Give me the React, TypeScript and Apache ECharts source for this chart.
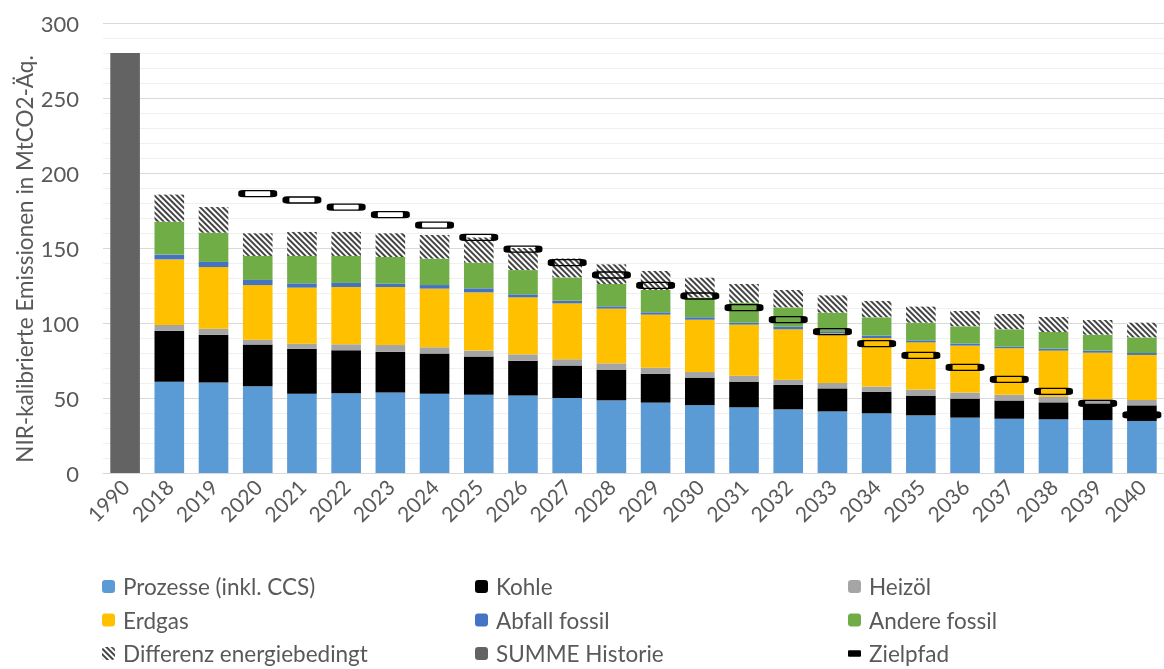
import React, { useEffect, useRef } from "react";
import * as echarts from "echarts";

const categories = ["1990","2018","2019","2020","2021","2022","2023","2024","2025","2026","2027","2028","2029","2030","2031","2032","2033","2034","2035","2036","2037","2038","2039","2040"];

const summeHistorie = [280];
const prozesse = [60.9,60.4,57.8,52.9,53.1,53.6,52.9,52.2,51.6,50.0,48.4,46.9,45.3,43.8,42.4,41.1,39.8,38.4,36.9,36.2,35.8,35.3,34.7];
const kohle = [34.0,31.8,27.8,30.0,28.7,27.3,26.7,25.4,23.3,21.6,20.5,19.3,18.3,17.1,16.3,15.3,14.4,13.2,12.7,12.2,11.3,11.1,10.4];
const heizoel = [3.8,4.0,3.3,3.3,4.0,4.4,4.2,4.0,4.2,4.2,4.2,4.0,3.7,4.0,3.5,3.6,3.4,4.0,4.0,3.8,3.8,2.7,3.6];
const erdgas = [43.7,41.1,36.4,37.4,38.2,38.7,39.1,38.8,38.0,37.3,36.5,35.4,34.9,34.0,33.6,33.1,32.4,31.5,31.3,30.9,30.7,31.1,30.0];
const abfall = [3.2,3.4,3.4,2.8,2.7,2.2,2.4,2.7,2.0,1.8,1.5,1.5,1.6,1.3,1.8,1.4,1.6,1.3,1.3,1.1,1.3,1.4,1.3];
const andere = [21.9,19.5,16.0,18.3,18.0,17.8,17.6,17.1,16.2,15.5,14.9,14.9,13.2,13.3,12.8,12.4,12.2,11.8,11.6,11.6,11.1,10.6,10.4];
const differenz = [18.1,17.1,15.1,16.0,16.0,15.8,15.8,16.8,14.7,12.6,13.1,12.7,13.2,12.5,11.6,11.5,10.9,10.7,10.2,10.2,10.0,9.8,9.8];
// Zielpfad starts at 2020
const zielpfad = [186.2,182,177.3,172.2,165.3,157.1,149.3,140.2,132,125.1,118,110.2,102.2,94.2,86.2,78.4,70.4,62.4,54.4,46.4,38.7];

const yAxisTitle = "NIR-kalibrierte Emissionen in MtCO2-Äq.";

const FONT = "Lato, 'Open Sans', sans-serif";
const TXT = "#595959";
const BOX_PATH = "path://M2,0 H30 Q32,0 32,2 V4 Q32,6 30,6 H2 Q0,6 0,4 V2 Q0,0 2,0 Z";

function withLead(arr: number[], lead: number) {
  const out: (number | string)[] = [];
  for (let i = 0; i < lead; i++) out.push("-");
  return out.concat(arr);
}

export default function App() {
  const ref = useRef<HTMLDivElement>(null);
  useEffect(() => {
    if (!ref.current) return;
    const chart = echarts.init(ref.current, undefined, { renderer: "svg" });
    const gap = "33%";
    const barSeries = (name: string, data: (number | string)[], color: string, extra: any = {}) => ({
      name,
      type: "bar",
      stack: "total",
      barCategoryGap: gap,
      data,
      itemStyle: { color, ...extra },
      emphasis: { disabled: true },
    });
    const summeData: (number | string)[] = summeHistorie.map((v) => v);
    while (summeData.length < categories.length) summeData.push("-");

    const legendCommon = {
      orient: "vertical" as const,
      top: 575,
      height: 100,
      padding: 0,
      itemWidth: 13,
      itemHeight: 13,
      itemGap: 10.5,
      textStyle: { fontSize: 22.5, color: TXT, fontFamily: FONT, lineHeight: 22, padding: [0, 0, 0, 3] },
      selectedMode: false,
    };

    chart.setOption({
      animation: false,
      textStyle: { fontFamily: FONT },
      grid: { left: 103, top: 23, bottom: 196, width: 1068, containLabel: false },
      graphic: [
        {
          type: "text",
          x: 24,
          y: 259,
          rotation: Math.PI / 2,
          style: {
            text: yAxisTitle,
            fontSize: 22.5,
            fontFamily: FONT,
            fill: TXT,
            align: "center",
            verticalAlign: "middle",
          },
        },
      ],
      legend: [
        { ...legendCommon, left: 102, data: ["Prozesse (inkl. CCS)", "Erdgas", "Differenz energiebedingt"] },
        { ...legendCommon, left: 475, data: ["Kohle", "Abfall fossil", "SUMME Historie"] },
        { ...legendCommon, left: 848, data: ["Heizöl", "Andere fossil", { name: "Zielpfad", icon: "path://M1,3 L11,3 Q12,3 12,4 L12,8 Q12,9 11,9 L1,9 Q0,9 0,8 L0,4 Q0,3 1,3 Z", itemStyle: { color: "#000", borderWidth: 0 } }] },
      ],
      xAxis: {
        type: "category",
        data: categories,
        axisTick: { show: false },
        axisLine: { lineStyle: { color: "#d9d9d9", width: 1 } },
        axisLabel: { rotate: 45, fontSize: 21, color: TXT, fontFamily: FONT, margin: 10, interval: 0 },
      },
      yAxis: {
        type: "value",
        min: 0,
        max: 300,
        interval: 50,
        axisLabel: { fontSize: 22, color: TXT, fontFamily: FONT, margin: 24 },
        axisLine: { show: false },
        axisTick: { show: false },
        splitLine: { lineStyle: { color: "#d9d9d9", width: 1 } },
        minorTick: { show: false, splitNumber: 5 },
        minorSplitLine: { show: true, lineStyle: { color: "#f0f0f0", width: 1 } },
      },
      series: [
        barSeries("SUMME Historie", summeData, "#636363"),
        barSeries("Prozesse (inkl. CCS)", withLead(prozesse, 1), "#5B9BD5"),
        barSeries("Kohle", withLead(kohle, 1), "#000000"),
        barSeries("Heizöl", withLead(heizoel, 1), "#A5A5A5"),
        barSeries("Erdgas", withLead(erdgas, 1), "#FFC000"),
        barSeries("Abfall fossil", withLead(abfall, 1), "#4472C4"),
        barSeries("Andere fossil", withLead(andere, 1), "#70AD47"),
        barSeries("Differenz energiebedingt", withLead(differenz, 1), "#ffffff", {
          decal: {
            symbol: "rect",
            symbolSize: 1,
            dashArrayX: [1, 0],
            dashArrayY: [1.5, 1.7],
            rotation: Math.PI / 4,
            color: "#444444",
            backgroundColor: "#ffffff",
          },
        }),
        {
          name: "Zielpfad",
          type: "scatter",
          data: withLead(zielpfad, 3),
          symbol: BOX_PATH,
          symbolSize: [32, 6],
          symbolKeepAspect: false,
          z: 10,
          itemStyle: { color: "rgba(255,255,255,0)", borderColor: "#000", borderWidth: 3, opacity: 1 },
          emphasis: { disabled: true },
        },
      ],
    });
    return () => chart.dispose();
  }, []);
  return <div ref={ref} style={{ position: "fixed", left: 0, top: 0, width: 1164, height: 669 }} />;
}
